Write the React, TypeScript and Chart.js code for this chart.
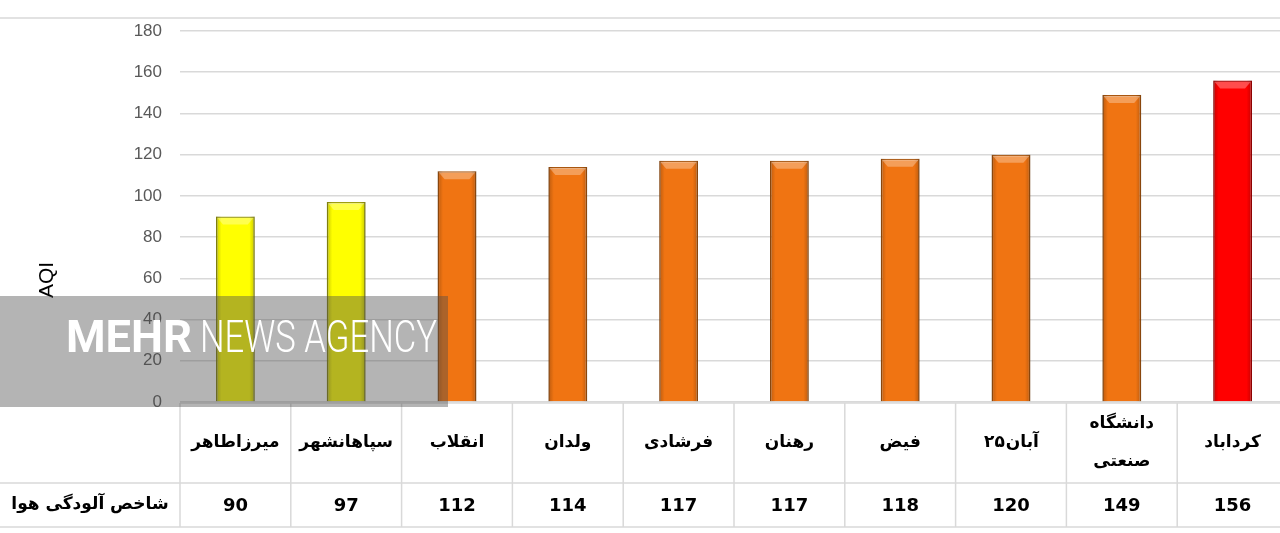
import React, { useEffect, useRef } from "react";
import { Chart, registerables } from "chart.js";

Chart.register(...registerables);

const categories: string[][] = [
  ["میرزاطاهر"],
  ["سپاهانشهر"],
  ["انقلاب"],
  ["ولدان"],
  ["فرشادی"],
  ["رهنان"],
  ["فیض"],
  ["۲۵آبان"],
  ["دانشگاه", "صنعتی"],
  ["کرداباد"],
];
const aqiValues: number[] = [90, 97, 112, 114, 117, 117, 118, 120, 149, 156];
const barColors: string[] = [
  "#FFFF00", "#FFFF00", "#F07412", "#F07412", "#F07412",
  "#F07412", "#F07412", "#F07412", "#F07412", "#FF0000",
];
const barBorders: string[] = [
  "#9E9E10", "#9E9E10", "#A9560F", "#A9560F", "#A9560F",
  "#A9560F", "#A9560F", "#A9560F", "#A9560F", "#B00000",
];
const rowLabel = "شاخص آلودگی هوا";
const axisTitle = "AQI";
const yTicks = { min: 0, max: 180, step: 20 };

const ARABIC_FONT = '"DejaVu Sans", "Noto Sans", sans-serif';

// draw a label whose leading number should sit on the left of the word (as in the reference)
function drawMixed(ctx: CanvasRenderingContext2D, text: string, cx: number, cy: number) {
  const clean = text.replace(/[\u200E\u200F\u202A-\u202E\u2066-\u2069]/g, "");
  const dm = clean.match(/\p{Nd}+/u);
  if (!dm) {
    ctx.textAlign = "center";
    ctx.fillText(clean, cx, cy);
    return;
  }
  const a = dm[0];
  const b = clean.replace(a, "");
  const wa = ctx.measureText(a).width;
  const wb = ctx.measureText(b).width;
  const left = cx - (wa + wb) / 2;
  ctx.textAlign = "left";
  ctx.fillText(a, left, cy);
  ctx.fillText(b, left + wa + 1, cy);
  ctx.textAlign = "center";
}

const decorPlugin = {
  id: "decor",
  beforeDraw(chart: any) {
    const ctx = chart.ctx;
    ctx.save();
    ctx.strokeStyle = "#d9d9d9";
    ctx.lineWidth = 1.5;
    ctx.beginPath();
    ctx.moveTo(0, 18);
    ctx.lineTo(chart.width, 18);
    ctx.stroke();
    ctx.restore();
  },
  afterDatasetsDraw(chart: any) {
    const ctx = chart.ctx;
    const meta = chart.getDatasetMeta(0);
    meta.data.forEach((bar: any) => {
      const { x, y, base, width } = bar.getProps(["x", "y", "base", "width"], true);
      const x0 = x - width / 2;
      const x1 = x + width / 2;
      ctx.save();
      const g = ctx.createLinearGradient(x0, 0, x1, 0);
      g.addColorStop(0, "rgba(0,0,0,0.22)");
      g.addColorStop(0.14, "rgba(0,0,0,0.0)");
      g.addColorStop(0.86, "rgba(0,0,0,0.0)");
      g.addColorStop(1, "rgba(0,0,0,0.22)");
      ctx.fillStyle = g;
      ctx.fillRect(x0, y, width, base - y);
      ctx.fillStyle = "rgba(255,255,255,0.3)";
      ctx.beginPath();
      ctx.moveTo(x0 + 1, y + 1);
      ctx.lineTo(x1 - 1, y + 1);
      ctx.lineTo(x1 - 7, y + 8);
      ctx.lineTo(x0 + 7, y + 8);
      ctx.closePath();
      ctx.fill();
      ctx.restore();
    });
  },
  afterDraw(chart: any) {
    const ctx = chart.ctx;
    const area = chart.chartArea;
    const xs = chart.scales.x;
    const n = categories.length;
    const cw = (area.right - area.left) / n;
    const top = 403;
    const mid = 483;
    const bot = 527;
    ctx.save();
    // table lines
    ctx.strokeStyle = "#d9d9d9";
    ctx.lineWidth = 1.5;
    ctx.beginPath();
    ctx.moveTo(area.left, top);
    ctx.lineTo(chart.width, top);
    ctx.moveTo(0, mid);
    ctx.lineTo(chart.width, mid);
    ctx.moveTo(0, bot);
    ctx.lineTo(chart.width, bot);
    for (let k = 0; k <= n; k++) {
      const lx = area.left + k * cw;
      ctx.moveTo(lx, top);
      ctx.lineTo(lx, bot);
    }
    ctx.stroke();
    // header labels
    ctx.fillStyle = "#000";
    ctx.textAlign = "center";
    ctx.textBaseline = "middle";
    ctx.font = `bold 17px ${ARABIC_FONT}`;
    categories.forEach((lines, i) => {
      const cx = xs.getPixelForValue(i);
      const cy = (top + mid) / 2;
      const lh = 38;
      lines.forEach((ln, j) => {
        const ly = cy + (j - (lines.length - 1) / 2) * lh;
        drawMixed(ctx, ln, cx, ly);
      });
    });
    // values
    ctx.font = `bold 18px "DejaVu Sans", sans-serif`;
    aqiValues.forEach((v, i) => {
      ctx.fillText(String(v), xs.getPixelForValue(i), (mid + bot) / 2 + 1);
    });
    ctx.font = `bold 17px ${ARABIC_FONT}`;
    ctx.fillText(rowLabel, area.left / 2, (mid + bot) / 2);
    // axis title
    ctx.save();
    ctx.translate(47, 280);
    ctx.rotate(-Math.PI / 2);
    ctx.font = `21px "Liberation Sans", Arial, sans-serif`;
    ctx.fillStyle = "#000";
    ctx.fillText(axisTitle, 0, 0);
    ctx.restore();
    // watermark
    ctx.fillStyle = "rgba(76,76,76,0.42)";
    ctx.fillRect(0, 296, 448, 111);
    ctx.fillStyle = "#ffffff";
    ctx.textAlign = "left";
    ctx.textBaseline = "alphabetic";
    ctx.font = `bold 44px Roboto, "Liberation Sans", sans-serif`;
    const w1 = ctx.measureText("MEHR").width;
    ctx.save();
    ctx.translate(66, 352);
    ctx.scale(126 / w1, 1);
    ctx.fillText("MEHR", 0, 0);
    ctx.restore();
    ctx.font = `300 44px Roboto, "Liberation Sans", sans-serif`;
    const w2 = ctx.measureText("NEWS AGENCY").width;
    ctx.save();
    ctx.translate(200, 352);
    ctx.scale(237 / w2, 1);
    ctx.fillText("NEWS AGENCY", 0, 0);
    ctx.restore();
    ctx.restore();
  },
};

export default function App() {
  const ref = useRef<HTMLCanvasElement | null>(null);
  useEffect(() => {
    if (!ref.current) return;
    const chart = new Chart(ref.current, {
      type: "bar",
      data: {
        labels: categories.map((c) => c.join(" ")),
        datasets: [
          {
            data: aqiValues,
            backgroundColor: barColors,
            borderColor: barBorders,
            borderWidth: 1.5,
            barPercentage: 0.7,
            categoryPercentage: 0.5,
          },
        ],
      },
      options: {
        responsive: false,
        animation: false,
        maintainAspectRatio: false,
        layout: { padding: { top: 31, bottom: 131, right: 2, left: 0 } },
        plugins: { legend: { display: false }, tooltip: { enabled: false } },
        scales: {
          x: { display: false, offset: true },
          y: {
            min: yTicks.min,
            max: yTicks.max,
            ticks: {
              stepSize: yTicks.step,
              padding: 18,
              color: "#595959",
              font: { family: '"Liberation Sans", Arial, sans-serif', size: 17 },
            },
            grid: { color: "#d9d9d9", lineWidth: 1.5, drawTicks: false },
            border: { display: false },
            afterFit: (s: any) => {
              s.width = 180;
            },
          },
        },
      },
      plugins: [decorPlugin],
    });
    return () => chart.destroy();
  }, []);
  return (
    <div
      style={{
        position: "fixed",
        left: 0,
        top: 0,
        width: 1280,
        height: 533,
        overflow: "hidden",
        background: "#fff",
      }}
    >
      <canvas ref={ref} width={1290} height={533} style={{ display: "block" }} />
    </div>
  );
}
